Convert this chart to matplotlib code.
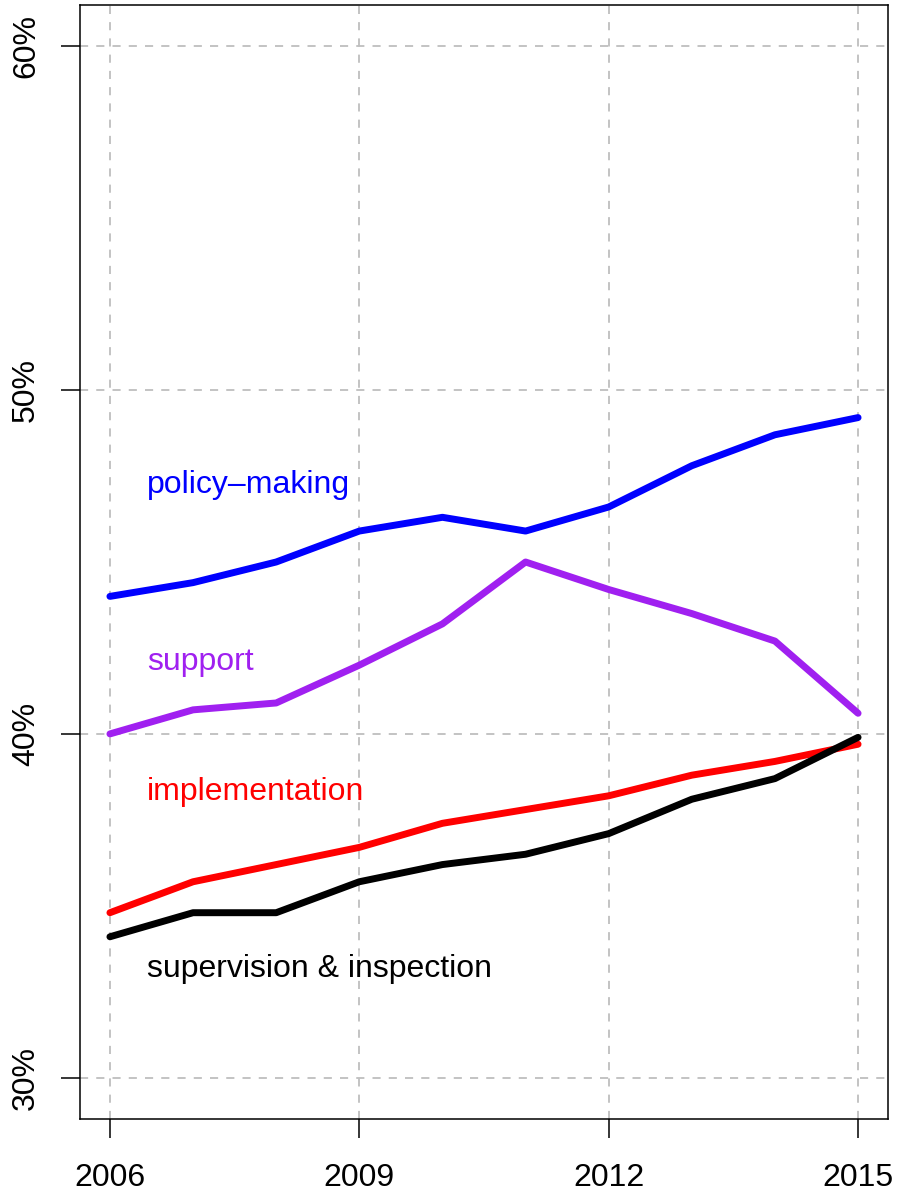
import matplotlib
matplotlib.use("Agg")
import matplotlib.pyplot as plt

years = [2006, 2007, 2008, 2009, 2010, 2011, 2012, 2013, 2014, 2015]
policy_making = [44.0, 44.4, 45.0, 45.9, 46.3, 45.9, 46.6, 47.8, 48.7, 49.2]
support = [40.0, 40.7, 40.9, 42.0, 43.2, 45.0, 44.2, 43.5, 42.7, 40.6]
implementation = [34.8, 35.7, 36.2, 36.7, 37.4, 37.8, 38.2, 38.8, 39.2, 39.7]
supervision = [34.1, 34.8, 34.8, 35.7, 36.2, 36.5, 37.1, 38.1, 38.7, 39.9]

series_names = ["policy\u2013making", "support", "implementation", "supervision & inspection"]
series_values = [policy_making, support, implementation, supervision]
series_colors = ["#0000FF", "#A020F0", "#FF0000", "#000000"]
label_y = [47.25, 42.1, 38.3, 33.15]

x_ticks = [2006, 2009, 2012, 2015]
y_ticks = [30, 40, 50, 60]
y_tick_labels = ["30%", "40%", "50%", "60%"]

plt.rcParams['font.family'] = ['Liberation Sans', 'DejaVu Sans']

fig = plt.figure(figsize=(8.97, 11.93), dpi=100)
ax = fig.add_axes([80/897, 1 - 1119/1193, (888-80)/897, (1119-5)/1193])

pad_x = 0.04 * (years[-1] - years[0])
ax.set_xlim(years[0] - pad_x, years[-1] + pad_x)
ax.set_ylim(30 - 0.04 * 30, 60 + 0.04 * 30)

for yv in y_ticks:
    ax.axhline(yv, color="#BEBEBE", lw=1.3, ls=(0, (4.5, 4.5)), zorder=1)
for xv in x_ticks:
    ax.axvline(xv, color="#BEBEBE", lw=1.3, ls=(0, (4.5, 4.5)), zorder=1)

for name, vals, col, ly in zip(series_names, series_values, series_colors, label_y):
    ax.plot(years, vals, color=col, lw=5, solid_capstyle="round",
            solid_joinstyle="round", zorder=3)
    ax.text(2006.45, ly, name, color=col, fontsize=23, ha="left", va="center")

ax.set_xticks(x_ticks)
ax.set_xticklabels([str(v) for v in x_ticks], fontsize=23)
ax.set_yticks(y_ticks)
ax.set_yticklabels(y_tick_labels, fontsize=23, rotation=90, va="center")
ax.tick_params(axis="both", direction="out", length=14, width=1.1, color="black")
ax.tick_params(axis="x", pad=18)
ax.tick_params(axis="y", pad=14)
for sp in ax.spines.values():
    sp.set_linewidth(1.1)
    sp.set_color("black")

fig.savefig("out.png", dpi=100)
